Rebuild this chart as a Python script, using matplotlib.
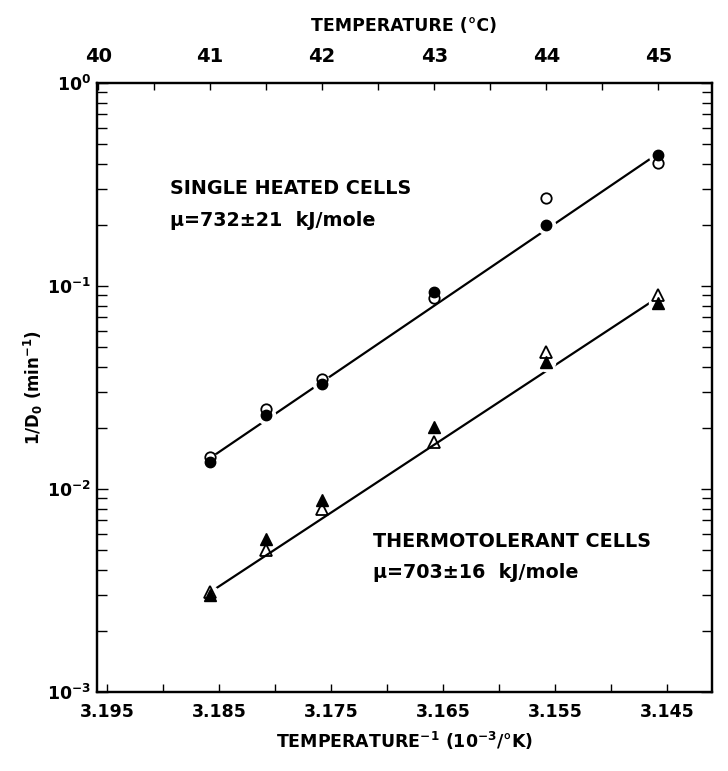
import matplotlib.pyplot as plt
import numpy as np
from matplotlib.ticker import FixedLocator, LogLocator, NullFormatter

plt.rcParams['font.family'] = 'DejaVu Sans'
plt.rcParams['font.weight'] = 'bold'
plt.rcParams['axes.labelweight'] = 'bold'
plt.rcParams['mathtext.default'] = 'bf'

# heating temperatures (deg C)
temps = [41, 41.5, 42, 43, 44, 45]

# single heated cells, 1/D0 (min^-1)
single_open = [0.0144, 0.0248, 0.0348, 0.0873, 0.271, 0.404]
single_fill = [0.0136, 0.0232, 0.0329, 0.0933, 0.200, 0.442]

# thermotolerant cells, 1/D0 (min^-1)
tol_open = [0.0031, 0.0050, 0.0080, 0.0171, 0.0474, 0.0903]
tol_fill = [0.0030, 0.0057, 0.0088, 0.0202, 0.0423, 0.0824]

# fitted Arrhenius lines
fit_T = [41, 45]
single_fit = [0.0142, 0.45]
tol_fit = [0.0031, 0.088]

inv_ticks = [3.195, 3.185, 3.175, 3.165, 3.155, 3.145]
inv_tick_labels = ['3.195', '3.185', '3.175', '3.165', '3.155', '3.145']
temp_ticks = [40, 41, 42, 43, 44, 45]

fig = plt.figure(figsize=(7.28, 7.71), dpi=100)
ax = fig.add_axes([0.1332, 0.1025, 0.8448, 0.7898])
ax.set_yscale('log')
ax.set_ylim(1e-3, 1)
ax.set_xlim(3.1959, 3.141)

# data drawn on the temperature axis
top = ax.twiny()
top.set_xlim(39.99, 45.48)

for fit in (single_fit, tol_fit):
    top.plot(fit_T, fit, color='black', lw=1.6, zorder=2)

halo = dict(marker='o', ms=13, color='white', ls='none', zorder=3)
top.plot(temps, single_fill, **halo)
top.plot(temps, tol_fill, **halo)

top.plot(temps, single_fill, 'o', ms=7.5, color='black', zorder=4)
top.plot(temps, single_open, 'o', ms=7.5, mfc='none', mec='black', mew=1.3, zorder=5)
top.plot(temps, tol_fill, '^', ms=8, color='black', zorder=4)
top.plot(temps, tol_open, '^', ms=8, mfc='none', mec='black', mew=1.3, zorder=5)

# annotations
note = dict(transform=ax.transAxes, fontsize=13.8, va='center', ha='left')
ax.text(0.118, 0.826, 'SINGLE HEATED CELLS', **note)
ax.text(0.118, 0.775, 'μ=732±21  kJ/mole', **note)
ax.text(0.449, 0.247, 'THERMOTOLERANT CELLS', **note)
ax.text(0.449, 0.196, 'μ=703±16  kJ/mole', **note)

# axes, ticks and labels
for sp in ax.spines.values():
    sp.set_linewidth(1.6)
for sp in top.spines.values():
    sp.set_linewidth(1.6)

ax.xaxis.set_major_locator(FixedLocator(inv_ticks))
ax.xaxis.set_minor_locator(FixedLocator(np.arange(3.14, 3.196, 0.01)))
ax.set_xticklabels(inv_tick_labels)
ax.yaxis.set_major_locator(LogLocator(base=10))
ax.yaxis.set_minor_locator(LogLocator(base=10, subs=np.arange(2, 10)))
ax.yaxis.set_minor_formatter(NullFormatter())
ax.set_yticks([1, 0.1, 0.01, 0.001])
ax.set_yticklabels(['$10^{0}$', '$10^{-1}$', '$10^{-2}$', '$10^{-3}$'])
ax.tick_params(which='both', direction='in', right=True, top=False,
               labelsize=12.5, pad=8)
ax.tick_params(axis='x', which='both', length=6, width=1)
ax.tick_params(axis='y', which='major', length=8, width=1, pad=4)
ax.tick_params(axis='y', which='minor', length=7, width=1)

top.set_xticks(temp_ticks)
top.xaxis.set_minor_locator(FixedLocator(np.arange(40.5, 45.5, 1.0)))
top.tick_params(which='both', direction='in', length=5, width=1,
                labelsize=14, pad=12)

ax.set_xlabel('TEMPERATURE$^{-1}$ (10$^{-3}$/°K)', fontsize=12.5,
              labelpad=6)
ax.set_ylabel('1/D$_0$ (min$^{-1}$)', fontsize=12, labelpad=2)
top.set_xlabel('TEMPERATURE (°C)', fontsize=12.5, labelpad=12)

fig.savefig('out.png', dpi=100)
